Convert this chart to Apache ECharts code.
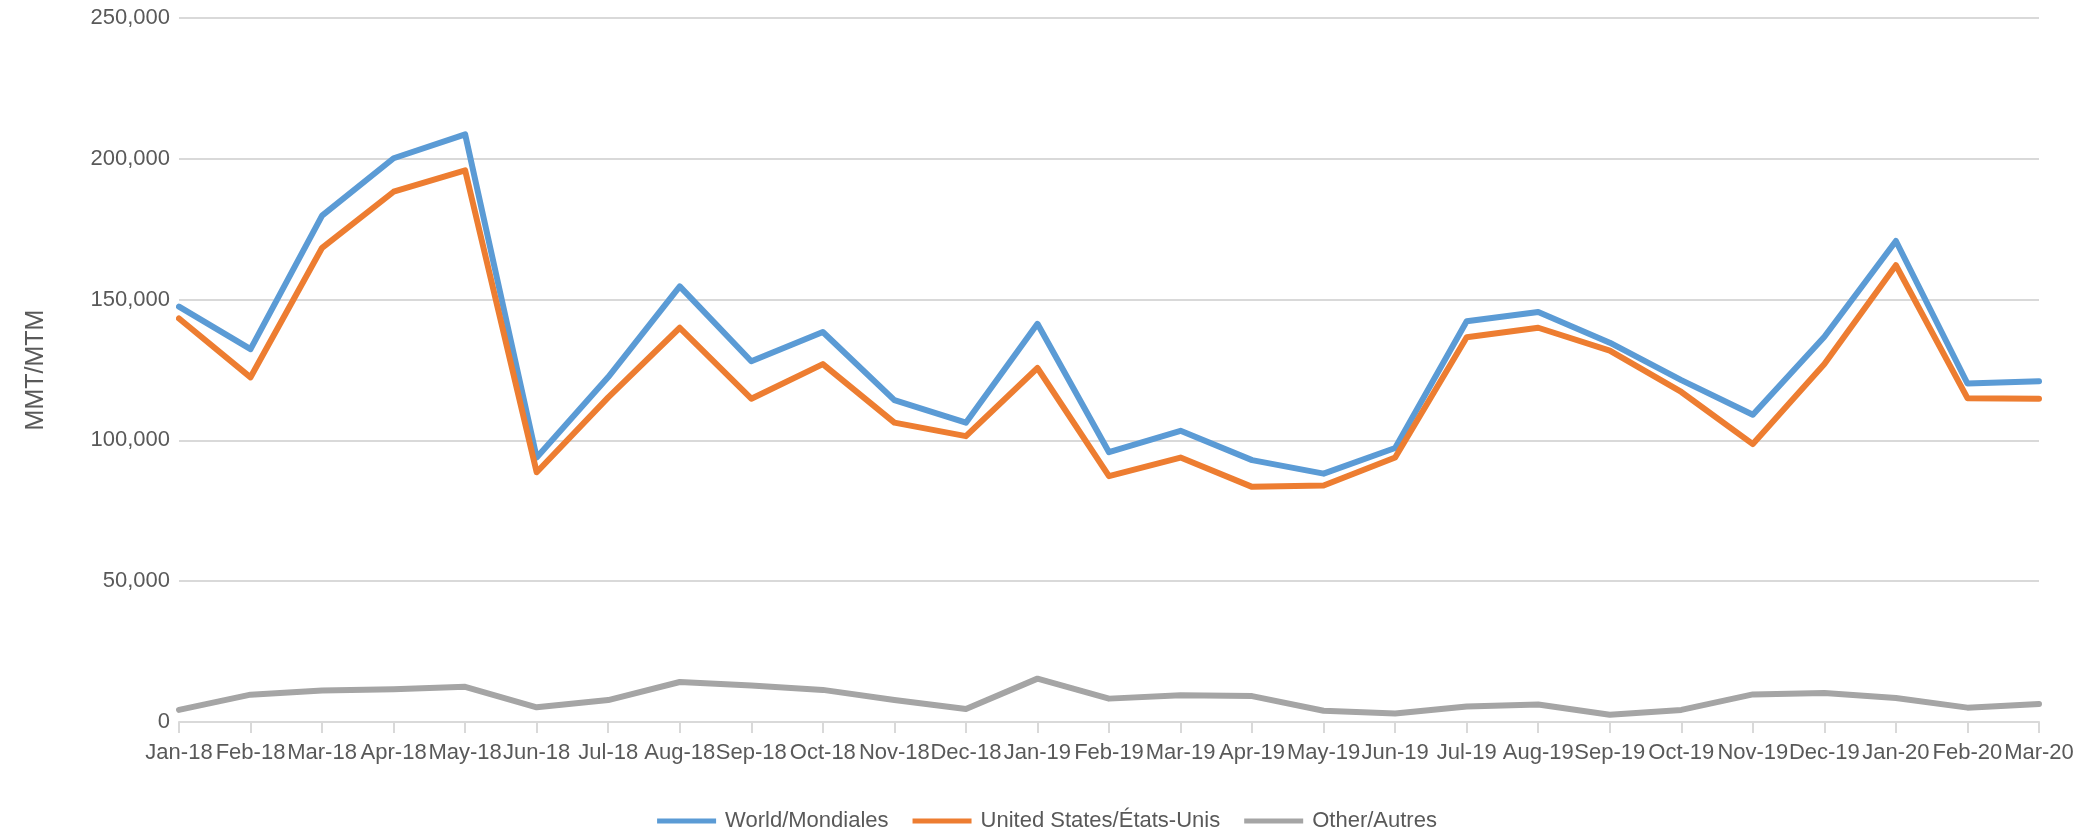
<!DOCTYPE html>
<html>
<head>
<meta charset="utf-8">
<script src="https://cdn.jsdelivr.net/npm/echarts@6/dist/echarts.min.js"></script>
<style>
  html, body { margin: 0; padding: 0; background: #fff; }
  #chart { width: 2094px; height: 828px; }
</style>
</head>
<body>
<div id="chart"></div>
<script>
// Monthly values
let months = [
  "Jan-18", "Feb-18", "Mar-18", "Apr-18", "May-18", "Jun-18", "Jul-18", "Aug-18", "Sep-18",
  "Oct-18", "Nov-18", "Dec-18", "Jan-19", "Feb-19", "Mar-19", "Apr-19", "May-19", "Jun-19",
  "Jul-19", "Aug-19", "Sep-19", "Oct-19", "Nov-19", "Dec-19", "Jan-20", "Feb-20", "Mar-20"
];

let world = [
  147500, 132400, 179800, 200200, 208700, 93900, 122500, 154700, 128100,
  138500, 114300, 106300, 141400, 95800, 103400, 93000, 88200, 97300,
  142300, 145600, 134700, 121400, 109100, 136800, 170800, 120200, 121000
];

let unitedStates = [
  143300, 122400, 168400, 188300, 195900, 88700, 115300, 140000, 114800,
  127100, 106300, 101500, 125700, 87300, 93900, 83500, 84000, 93900,
  136600, 140000, 131900, 117200, 98700, 127100, 162200, 115000, 114800
];

let other = [
  4300, 9700, 11200, 11600, 12500, 5200, 7800, 14200, 13000,
  11400, 7800, 4600, 15400, 8300, 9500, 9200, 4000, 3000,
  5500, 6200, 2600, 4300, 9800, 10300, 8500, 5100, 6400
];

let yTicks = { min: 0, max: 250000, step: 50000 };

let textColor = "#595959";
let fontFamily = "'Liberation Sans', Arial, sans-serif";

let chart = echarts.init(document.getElementById("chart"));

let makeSeries = (name, data, color) => ({
  name: name,
  type: "line",
  data: data,
  symbol: "none",
  lineStyle: { width: 6, color: color, join: "round", cap: "round" },
  itemStyle: { color: color },
  animation: false
});

chart.setOption({
  animation: false,
  textStyle: { fontFamily: fontFamily },
  grid: { left: 179, right: 55, top: 18, bottom: 106, containLabel: false },
  legend: {
    left: "center",
    top: 805,
    icon: "rect",
    itemWidth: 59,
    itemHeight: 5,
    itemGap: 24,
    textStyle: {
      color: textColor,
      fontSize: 22,
      fontFamily: fontFamily,
      padding: [0, 0, 0, 4]
    },
    data: ["World/Mondiales", "United States/États-Unis", "Other/Autres"]
  },
  xAxis: {
    type: "category",
    data: months,
    boundaryGap: false,
    axisLine: { show: true, lineStyle: { color: "#d9d9d9", width: 2 } },
    axisTick: { show: true, alignWithLabel: true, length: 11, lineStyle: { color: "#d9d9d9", width: 2 } },
    axisLabel: {
      interval: 0,
      hideOverlap: false,
      margin: 20,
      color: textColor,
      fontSize: 22,
      fontFamily: fontFamily
    },
    splitLine: { show: false }
  },
  yAxis: {
    type: "value",
    min: yTicks.min,
    max: yTicks.max,
    interval: yTicks.step,
    name: "MMT/MTM",
    nameLocation: "middle",
    nameGap: 130,
    nameRotate: 90,
    nameTextStyle: { color: textColor, fontSize: 25, fontFamily: fontFamily },
    axisLine: { show: false },
    axisTick: { show: false },
    axisLabel: {
      margin: 9,
      color: textColor,
      fontSize: 22,
      fontFamily: fontFamily,
      formatter: (v) => v.toLocaleString("en-US")
    },
    splitLine: { show: true, lineStyle: { color: "#d9d9d9", width: 2 } }
  },
  series: [
    makeSeries("World/Mondiales", world, "#5b9bd5"),
    makeSeries("United States/États-Unis", unitedStates, "#ed7d31"),
    makeSeries("Other/Autres", other, "#a5a5a5")
  ]
});
</script>
</body>
</html>
